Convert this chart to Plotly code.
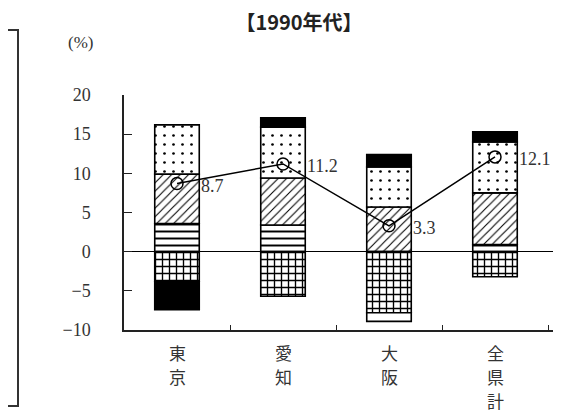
import plotly.graph_objects as go

categories = ["東京", "愛知", "大阪", "全県計"]
s_hlines = [3.6, 3.4, 0.0, 0.9]
s_hatch = [6.3, 6.0, 5.7, 6.6]
s_dots = [6.3, 6.5, 5.1, 6.5]
s_grid = [-3.8, -5.7, -7.8, -3.2]
s_black = [-3.6, 1.2, 1.6, 1.3]
s_blank = [0.0, 0.0, -1.1, 0.0]
line_vals = [8.7, 11.2, 3.3, 12.1]
line_labels = ["8.7", "11.2", "3.3", "12.1"]
y_ticks = [-10, -5, 0, 5, 10, 15, 20]

# page body has an 8px margin, so the figure is 8px smaller than the window
OFF = 8
W, H = 568 - OFF, 414 - OFF
ML, MR, MT, MB = 124 - OFF, 15, 95 - OFF, 84
pw = W - ML - MR
ph = H - MT - MB


def px_x(px):  # reference pixel x -> paper
    return (px - OFF - ML) / pw


def px_y(py):  # reference pixel y -> paper
    return (H - MB - (py - OFF)) / ph


fig = go.Figure()


def bar(vals, shape=None, color="white", size=8, solidity=0.2):
    m = dict(color=color, line=dict(color="black", width=1.6))
    if shape:
        m["pattern"] = dict(shape=shape, fgcolor="black", bgcolor=color, size=size,
                            solidity=solidity, fillmode="replace")
    fig.add_trace(go.Bar(x=categories, y=vals, marker=m, showlegend=False, hoverinfo="skip"))


bar(s_hlines, "-", size=7, solidity=0.28)
bar(s_hatch, "/", size=6, solidity=0.18)
bar(s_dots, ".", size=9, solidity=0.07)
bar(s_grid, "+", size=7, solidity=0.35)
bar(s_black, None, color="black")
bar(s_blank, None, color="white")

fig.add_trace(go.Scatter(
    x=categories, y=line_vals, mode="lines+markers",
    line=dict(color="black", width=1.5),
    marker=dict(symbol="circle-open", size=12, color="black", line=dict(width=1.5)),
    showlegend=False, hoverinfo="skip"))

for cat, v, lab in zip(categories, line_vals, line_labels):
    fig.add_annotation(x=cat, y=v, xref="x", yref="y", text=lab, showarrow=False,
                       xanchor="left", yanchor="middle", xshift=22, yshift=-2,
                       font=dict(family="Liberation Serif", size=18, color="#333"))

# vertical stacked category labels
for i, cat in enumerate(categories):
    for j, ch in enumerate(cat):
        fig.add_annotation(x=i, xref="x", y=px_y(352 + j * 24), yref="paper",
                           text=ch, showarrow=False, xanchor="center", yanchor="middle",
                           borderpad=0,
                           font=dict(family="Noto Sans CJK JP", size=17, color="#333"))

# unit label
fig.add_annotation(x=px_x(80), xref="paper", y=px_y(42), yref="paper",
                   text="(%)", showarrow=False, xanchor="center", yanchor="middle",
                   font=dict(family="Liberation Serif", size=17, color="#333"))

# cut-off legend box on the left
fig.add_shape(type="rect", xref="paper", yref="paper",
              x0=px_x(-10), x1=px_x(18), y0=px_y(406), y1=px_y(30),
              line=dict(color="#333", width=2), fillcolor="rgba(0,0,0,0)")

fig.update_layout(
    width=W, height=H,
    margin=dict(l=ML, r=MR, t=MT, b=MB, autoexpand=False),
    paper_bgcolor="white", plot_bgcolor="white",
    barmode="relative", bargap=0.58,
    title=dict(text="<b>【1990年代】</b>", x=(299 - OFF) / W, xanchor="center",
               y=1 - (23 - OFF) / H, yanchor="middle",
               font=dict(family="Noto Sans CJK JP", size=20, color="#222")),
    xaxis=dict(showline=True, linecolor="#222", linewidth=1.5, ticks="inside", tickson="boundaries",
               ticklen=5, tickcolor="#222", showticklabels=False, showgrid=False, zeroline=False,
               automargin=False),
    yaxis=dict(range=[-10, 20], tickvals=y_ticks, showline=True, linecolor="#222", linewidth=1.5,
               ticks="inside", ticklen=8, tickcolor="#222", showgrid=False,
               zeroline=True, zerolinecolor="black", zerolinewidth=1.2,
               ticklabelstandoff=28, automargin=False,
               tickfont=dict(family="Liberation Serif", size=18, color="#333")),
)

fig.write_html("out.html")
